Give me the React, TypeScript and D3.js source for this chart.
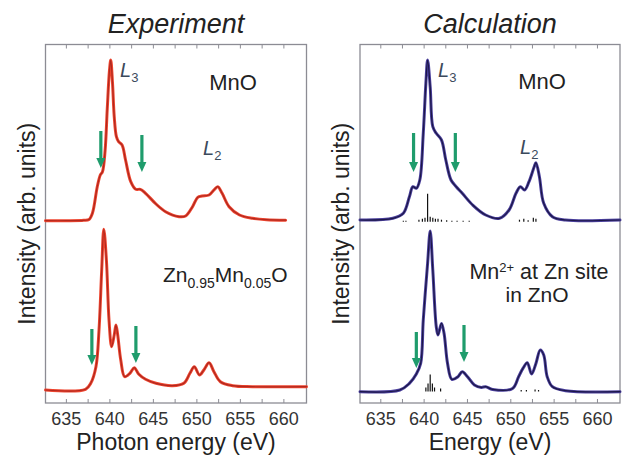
import React from "react";
import * as d3 from "d3";

// Energy axis ticks (eV)
const majorTicks = [635, 640, 645, 650, 655, 660];
const minorTicks = [637.5, 642.5, 647.5, 652.5, 657.5];

// Experiment: MnO (intensity above its own baseline)
const expMnOEnergy = [632.6, 635.0, 637.0, 637.6, 638.0, 638.55, 638.9, 639.15, 639.45, 639.7, 639.95, 640.1, 640.3, 640.5, 640.75, 641.0, 641.4, 641.8, 642.4, 642.97, 643.5, 644.1, 645.3, 646.4, 647.95, 648.7, 649.5, 650.1, 650.6, 651.4, 651.96, 652.4, 652.9, 653.7, 654.9, 656.4, 658.0, 660.2];
const expMnOIntensity = [0, 0, 0.4, 1.2, 7.7, 34, 45.7, 49, 70, 112, 150, 160.7, 138, 104, 84, 79, 75.7, 60.7, 39, 31.4, 31.4, 27.4, 16.7, 9, 4, 4.7, 14, 23.4, 24.7, 25.7, 30.7, 34, 27.4, 14, 5.7, 2.4, 1, 0.5];

// Experiment: Zn0.95Mn0.05O
const expZnEnergy = [632.6, 637.2, 637.8, 638.4, 638.75, 639.06, 639.3, 639.6, 639.9, 640.2, 640.5, 640.7, 640.9, 641.25, 641.7, 642.3, 642.8, 643.3, 644.1, 645.3, 647.2, 648.5, 649.2, 649.7, 650.3, 650.8, 651.4, 651.96, 652.7, 654.1, 656.4, 662.6];
const expZnIntensity = [0, 0.7, 6.7, 23.3, 60, 120, 160.7, 130, 70, 43.3, 55, 65, 55, 30, 13.3, 16.7, 22.3, 16, 10.7, 6.7, 4.3, 6.7, 16.7, 23.3, 15, 20, 27.3, 18.3, 8.3, 4.3, 3.3, 3.3];

// Calculation: MnO
const calcMnOEnergy = [632.6, 636.4, 637.6, 638.3, 638.7, 639.1, 639.5, 639.9, 640.2, 640.4, 640.7, 641.0, 641.4, 642.0, 642.5, 643.1, 643.7, 644.4, 645.6, 647.1, 648.7, 649.8, 650.6, 651.1, 651.6, 652.1, 652.7, 652.9, 653.3, 653.8, 654.8, 656.3, 662.6];
const calcMnOIntensity = [0, 1.7, 6.7, 23.3, 33.3, 31.7, 40, 86.7, 136.7, 160, 133, 93.3, 86.7, 80, 60, 40, 33.3, 26.7, 15, 5, 1.7, 10, 26.7, 33.3, 30, 38.3, 53.3, 57.3, 43.3, 16.7, 3.3, 0, 0];

// Calculation: Mn2+ at Zn site in ZnO
const calcZnEnergy = [632.6, 637.2, 638.3, 639.1, 639.6, 639.9, 640.4, 640.7, 641.0, 641.4, 641.6, 642.0, 642.3, 642.7, 643.2, 643.9, 644.4, 645.0, 645.8, 646.6, 647.1, 647.9, 650.2, 650.9, 651.4, 651.9, 652.4, 652.9, 653.4, 653.8, 654.2, 654.8, 656.3, 662.6];
const calcZnIntensity = [0, 1.7, 8.3, 17.7, 28.3, 71.7, 128.3, 160.7, 121.7, 65, 56.7, 68.3, 58.3, 28.3, 12.3, 15, 20, 15, 6.7, 4.3, 5, 2.3, 3.3, 15, 23.3, 29, 17.7, 28.3, 41.7, 36.7, 15, 5, 1, 0];

// Multiplet stick spectra under the calculated curves
const stickMnOEnergy = [637.6, 637.9, 639.4, 639.8, 640.1, 640.4, 640.7, 641.0, 641.3, 641.6, 642.0, 642.6, 643.2, 643.8, 644.5, 645.2, 651.0, 651.5, 652.0, 652.6, 652.9];
const stickMnOHeight = [1, 1, 2, 3, 4, 28, 5, 4, 3, 3, 2, 1.5, 1, 1, 1, 1, 2, 3, 1.5, 4, 3];
const stickZnEnergy = [640.2, 640.45, 640.7, 640.95, 641.2, 641.9, 651.2, 651.8, 652.8, 653.2];
const stickZnHeight = [4, 8, 17, 8, 4, 3, 1.5, 1.5, 2, 1.5];

// Arrows: energy and vertical extent (top, tip) in plot units
const expArrowEnergy = [638.96, 643.68, 637.93, 642.99];
const expArrowTop = [272, 268, 74, 77];
const expArrowTip = [235, 231, 38, 40];
const calcArrowEnergy = [638.78, 643.6, 639.1, 644.6];
const calcArrowTop = [270, 270, 71, 78];
const calcArrowTip = [231, 231, 35, 41];

const W = 622;
const H = 455;
const FRAME_TOP = 44.5;
const FRAME_BOTTOM = 403;
const FONT = "'Liberation Sans', Arial, Helvetica, sans-serif";
const ARROW_COLOR = "#1f9c6c";

const y = d3.scaleLinear().domain([0, FRAME_BOTTOM - FRAME_TOP]).range([FRAME_BOTTOM, FRAME_TOP]);

type Series = { energy: number[]; intensity: number[]; offset: number };

function Panel(props: {
  x0: number;
  x1: number;
  title: string;
  xLabel: string;
  series: Series[];
  outer: string;
  inner: string;
  sticks?: { energy: number[]; height: number[]; base: number }[];
  arrows: { energy: number[]; top: number[]; tip: number[] };
  children?: React.ReactNode;
  xs: d3.ScaleLinear<number, number>;
}) {
  const { x0, x1, xs } = props;
  const line = (s: Series) =>
    d3
      .line<number>()
      .x((_, i) => xs(s.energy[i]))
      .y((v) => y(v + s.offset))
      .curve(d3.curveCatmullRom.alpha(0.5))(s.intensity) || "";
  const cx = (x0 + x1) / 2;
  return (
    <g>
      <text x={cx} y={33} textAnchor="middle" fontFamily={FONT} fontStyle="italic" fontSize={27} fill="#222">
        {props.title}
      </text>
      <text
        transform={`translate(${x0 - 11},${(FRAME_TOP + FRAME_BOTTOM) / 2}) rotate(-90)`}
        textAnchor="middle"
        fontFamily={FONT}
        fontSize={23}
        fill="#222"
      >
        Intensity (arb. units)
      </text>
      <rect x={x0} y={FRAME_TOP} width={x1 - x0} height={FRAME_BOTTOM - FRAME_TOP} fill="none" stroke="#8c8c94" strokeWidth={1.3} />
      {[...majorTicks, ...minorTicks].map((t) => (
        <g key={t} stroke="#8c8c94" strokeWidth={1}>
          <line x1={xs(t)} x2={xs(t)} y1={FRAME_BOTTOM} y2={FRAME_BOTTOM - 4} />
          <line x1={xs(t)} x2={xs(t)} y1={FRAME_TOP} y2={FRAME_TOP + 4} />
        </g>
      ))}
      {majorTicks.map((t) => (
        <text key={t} x={xs(t)} y={425} textAnchor="middle" fontFamily={FONT} fontSize={18} fill="#333">
          {t}
        </text>
      ))}
      <text x={cx} y={450} textAnchor="middle" fontFamily={FONT} fontSize={23} fill="#222">
        {props.xLabel}
      </text>
      {props.sticks &&
        props.sticks.map((st, k) => (
          <g key={k} stroke="#111" strokeWidth={1.2}>
            {st.energy.map((e, i) => (
              <line key={i} x1={xs(e)} x2={xs(e)} y1={y(st.base)} y2={y(st.base + st.height[i])} />
            ))}
          </g>
        ))}
      {props.series.map((s, i) => (
        <g key={i} fill="none" strokeLinejoin="round" strokeLinecap="round">
          <path d={line(s)} stroke={props.outer} strokeWidth={3} />
          <path d={line(s)} stroke={props.inner} strokeWidth={1.2} />
        </g>
      ))}
      {props.arrows.energy.map((e, i) => {
        const ax = xs(e);
        const yt = y(props.arrows.top[i]);
        const yp = y(props.arrows.tip[i]);
        return (
          <g key={i} fill={ARROW_COLOR} stroke="none">
            <rect x={ax - 1.6} y={yt} width={3.2} height={yp - yt - 8} />
            <path d={`M${ax - 4.5},${yp - 10} L${ax + 4.5},${yp - 10} L${ax},${yp} Z`} />
          </g>
        );
      })}
      {props.children}
    </g>
  );
}

function Sub(props: { children: React.ReactNode; dy: number; size: number }) {
  return (
    <tspan dy={props.dy} fontSize={props.size}>
      {props.children}
    </tspan>
  );
}

export default function App() {
  const xl = d3.scaleLinear().domain([632.6, 662.6]).range([45.5, 306.5]);
  const xr = d3.scaleLinear().domain([632.6, 662.6]).range([360, 620]);
  const labelColor = "#3b4a5c";
  return (
    <svg width={W} height={H} viewBox={`0 0 ${W} ${H}`} style={{ display: "block", position: "absolute", left: 0, top: 0, background: "#fff" }}>
      <Panel
        x0={45.5}
        x1={306.5}
        xs={xl}
        title="Experiment"
        xLabel="Photon energy (eV)"
        outer="#ee4630"
        inner="#b0281e"
        series={[
          { energy: expMnOEnergy, intensity: expMnOIntensity, offset: 182.3 },
          { energy: expZnEnergy, intensity: expZnIntensity, offset: 13 },
        ]}
        arrows={{ energy: expArrowEnergy, top: expArrowTop, tip: expArrowTip }}
      >
        <text x={120} y={77} fontFamily={FONT} fontSize={20} fill={labelColor}>
          <tspan fontStyle="italic">L</tspan>
          <Sub dy={5} size={13}>3</Sub>
        </text>
        <text x={233} y={90} textAnchor="middle" fontFamily={FONT} fontSize={22} fill="#222">MnO</text>
        <text x={203} y={155} fontFamily={FONT} fontSize={20} fill={labelColor}>
          <tspan fontStyle="italic">L</tspan>
          <Sub dy={5} size={13}>2</Sub>
        </text>
        <text x={163} y={282} fontFamily={FONT} fontSize={21} fill="#222">
          Zn<Sub dy={6} size={14}>0.95</Sub>
          <tspan dy={-6}>Mn</tspan>
          <Sub dy={6} size={14}>0.05</Sub>
          <tspan dy={-6}>O</tspan>
        </text>
      </Panel>
      <Panel
        x0={360}
        x1={620}
        xs={xr}
        title="Calculation"
        xLabel="Energy (eV)"
        outer="#4a3f9c"
        inner="#1c1747"
        series={[
          { energy: calcMnOEnergy, intensity: calcMnOIntensity, offset: 183 },
          { energy: calcZnEnergy, intensity: calcZnIntensity, offset: 11.3 },
        ]}
        sticks={[
          { energy: stickMnOEnergy, height: stickMnOHeight, base: 181.3 },
          { energy: stickZnEnergy, height: stickZnHeight, base: 11.5 },
        ]}
        arrows={{ energy: calcArrowEnergy, top: calcArrowTop, tip: calcArrowTip }}
      >
        <text x={438} y={77} fontFamily={FONT} fontSize={20} fill={labelColor}>
          <tspan fontStyle="italic">L</tspan>
          <Sub dy={5} size={13}>3</Sub>
        </text>
        <text x={542} y={89} textAnchor="middle" fontFamily={FONT} fontSize={22} fill="#222">MnO</text>
        <text x={520} y={154} fontFamily={FONT} fontSize={20} fill={labelColor}>
          <tspan fontStyle="italic">L</tspan>
          <Sub dy={5} size={13}>2</Sub>
        </text>
        <text x={539} y={279} textAnchor="middle" fontFamily={FONT} fontSize={21.5} fill="#222">
          Mn<Sub dy={-7} size={13}>2+</Sub>
          <tspan dy={7}> at Zn site</tspan>
        </text>
        <text x={537} y={302} textAnchor="middle" fontFamily={FONT} fontSize={21} fill="#222">in ZnO</text>
      </Panel>
    </svg>
  );
}
